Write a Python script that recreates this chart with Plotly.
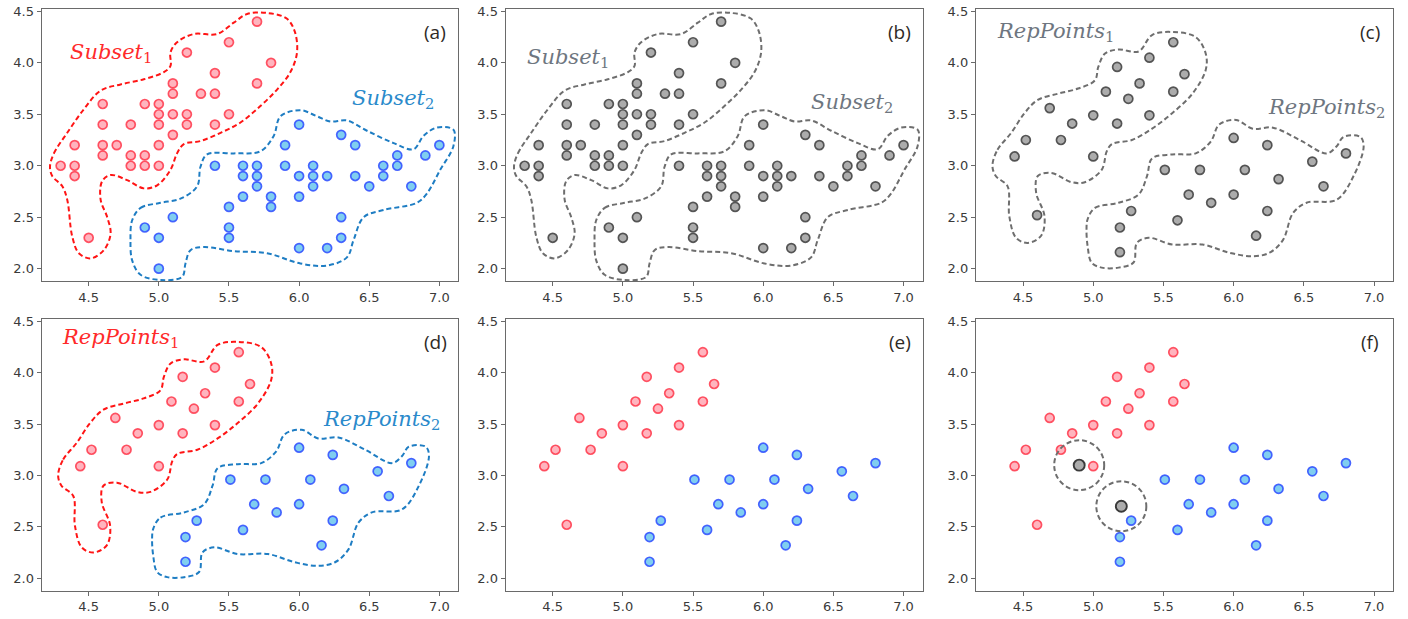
import plotly.graph_objects as go

# ---------------- data ----------------
# Subset 1 (red) and Subset 2 (blue) – full samples, panels (a),(b)
s1_x = [4.3, 4.4, 4.4, 4.4, 4.5, 4.6, 4.6, 4.6, 4.6, 4.7, 4.8, 4.8, 4.8, 4.9, 4.9, 4.9,
        5.0, 5.0, 5.0, 5.0, 5.0, 5.1, 5.1, 5.1, 5.1, 5.2, 5.2, 5.2, 5.3, 5.4, 5.4, 5.4,
        5.5, 5.5, 5.7, 5.7, 5.8]
s1_y = [3.0, 3.2, 3.0, 2.9, 2.3, 3.6, 3.4, 3.2, 3.1, 3.2, 3.4, 3.1, 3.0, 3.6, 3.1, 3.0,
        3.6, 3.5, 3.4, 3.2, 3.0, 3.8, 3.7, 3.5, 3.3, 4.1, 3.5, 3.4, 3.7, 3.9, 3.7, 3.4,
        4.2, 3.5, 4.4, 3.8, 4.0]
s2_x = [4.9, 5.0, 5.0, 5.1, 5.4, 5.5, 5.5, 5.5, 5.6, 5.6, 5.6, 5.7, 5.7, 5.7, 5.8, 5.8,
        5.9, 5.9, 6.0, 6.0, 6.0, 6.0, 6.1, 6.1, 6.1, 6.2, 6.2, 6.3, 6.3, 6.3, 6.4, 6.4,
        6.5, 6.6, 6.6, 6.7, 6.7, 6.8, 6.9, 7.0]
s2_y = [2.4, 2.3, 2.0, 2.5, 3.0, 2.6, 2.4, 2.3, 3.0, 2.9, 2.7, 3.0, 2.9, 2.8, 2.7, 2.6,
        3.2, 3.0, 3.4, 2.9, 2.7, 2.2, 3.0, 2.9, 2.8, 2.9, 2.2, 3.3, 2.5, 2.3, 3.2, 2.9,
        2.8, 3.0, 2.9, 3.1, 3.0, 2.8, 3.1, 3.2]

# Representative points
r1_x = [5.57, 5.40, 5.17, 5.65, 5.33, 5.09, 5.57, 5.25, 4.69, 5.00, 5.40, 4.85, 5.17,
        4.52, 4.77, 4.44, 5.00, 4.60]
r1_y = [4.20, 4.05, 3.96, 3.89, 3.80, 3.72, 3.72, 3.65, 3.56, 3.49, 3.49, 3.41, 3.41,
        3.25, 3.25, 3.09, 3.09, 2.52]
r2_x = [6.00, 6.24, 6.80, 6.56, 5.51, 5.76, 6.08, 6.32, 6.64, 5.68, 6.00, 5.84, 5.27,
        6.24, 5.60, 5.19, 6.16, 5.19]
r2_y = [3.27, 3.20, 3.12, 3.04, 2.96, 2.96, 2.96, 2.87, 2.80, 2.72, 2.72, 2.64, 2.56,
        2.56, 2.47, 2.40, 2.32, 2.16]

# Query points in panel (f)
q_x = [4.90, 5.20]
q_y = [3.10, 2.70]

# Contour outlines (data coordinates)
c_s1_x = [4.224, 4.252, 4.347, 4.466, 4.585, 4.727, 4.893, 5.036, 5.083, 5.083, 5.13, 5.25,
          5.415, 5.534, 5.63, 5.77, 5.912, 5.97, 5.985, 5.938, 5.843, 5.724, 5.582, 5.44,
          5.297, 5.178, 5.13, 5.083, 4.988, 4.893, 4.774, 4.656, 4.596, 4.585, 4.632,
          4.656, 4.608, 4.513, 4.43, 4.383, 4.347, 4.312, 4.24]
c_s1_y = [2.99, 3.12, 3.32, 3.55, 3.73, 3.79, 3.84, 3.91, 3.97, 4.10, 4.20, 4.28,
          4.28, 4.39, 4.475, 4.485, 4.43, 4.30, 4.10, 3.91, 3.74, 3.58, 3.42, 3.32,
          3.24, 3.21, 3.12, 2.96, 2.81, 2.78, 2.86, 2.91, 2.85, 2.67, 2.50,
          2.34, 2.18, 2.10, 2.15, 2.31, 2.67, 2.80, 2.90]
c_s2_x = [4.81, 4.87, 5.012, 5.154, 5.273, 5.297, 5.344, 5.534, 5.724, 5.819, 5.867, 6.009,
          6.128, 6.223, 6.341, 6.484, 6.674, 6.816, 6.887, 6.982, 7.10, 7.10, 7.006, 6.911,
          6.84, 6.603, 6.46, 6.389, 6.341, 6.199, 6.009, 5.772, 5.534, 5.32, 5.226, 5.19,
          5.166, 5.012, 4.87, 4.81, 4.798]
c_s2_y = [2.47, 2.59, 2.64, 2.68, 2.80, 2.99, 3.11, 3.12, 3.14, 3.29, 3.48, 3.54,
          3.48, 3.43, 3.44, 3.34, 3.22, 3.16, 3.29, 3.37, 3.35, 3.19, 2.96, 2.73,
          2.64, 2.57, 2.50, 2.28, 2.11, 2.03, 2.05, 2.15, 2.17, 2.21, 2.18, 2.05,
          1.92, 1.89, 1.94, 2.08, 2.28]
c_r1_x = [4.282, 4.318, 4.414, 4.51, 4.605, 4.749, 4.892, 5.012, 5.036, 5.084, 5.18, 5.323,
          5.419, 5.562, 5.73, 5.801, 5.801, 5.706, 5.562, 5.419, 5.275, 5.132, 5.096, 5.06,
          4.94, 4.845, 4.701, 4.605, 4.593, 4.653, 4.629, 4.533, 4.45, 4.402, 4.39, 4.306]
c_r1_y = [3.00, 3.155, 3.316, 3.51, 3.64, 3.70, 3.75, 3.83, 3.96, 4.09, 4.13, 4.11,
          4.27, 4.30, 4.25, 4.09, 3.93, 3.70, 3.51, 3.36, 3.25, 3.21, 3.14, 2.96,
          2.84, 2.84, 2.93, 2.90, 2.74, 2.51, 2.32, 2.25, 2.30, 2.51, 2.80, 2.90]
c_r2_x = [4.96, 5.012, 5.18, 5.323, 5.383, 5.419, 5.562, 5.73, 5.837, 5.897, 6.017, 6.136,
          6.28, 6.471, 6.663, 6.734, 6.782, 6.902, 6.926, 6.854, 6.734, 6.519, 6.423, 6.352,
          6.256, 6.136, 5.969, 5.778, 5.562, 5.395, 5.311, 5.287, 5.18, 5.06, 4.988, 4.96,
          4.952]
c_r2_y = [2.48, 2.59, 2.64, 2.72, 2.90, 3.07, 3.11, 3.12, 3.235, 3.40, 3.445, 3.36,
          3.37, 3.25, 3.12, 3.19, 3.28, 3.28, 3.19, 2.90, 2.67, 2.64, 2.54, 2.28,
          2.155, 2.12, 2.155, 2.235, 2.235, 2.30, 2.25, 2.06, 2.01, 2.01, 2.06, 2.22,
          2.38]

panel_labels = ["(a)", "(b)", "(c)", "(d)", "(e)", "(f)"]
x_ticks = [4.5, 5.0, 5.5, 6.0, 6.5, 7.0]
y_ticks = [2.0, 2.5, 3.0, 3.5, 4.0, 4.5]
x_range = [4.165, 7.135]
y_range = [1.88, 4.52]

# ---------------- styles ----------------
W, H = 1408, 619
RED_M = dict(size=9, color="rgba(255,176,186,0.95)", line=dict(color="rgba(255,45,65,0.8)", width=1.7))
BLUE_M = dict(size=9, color="rgba(128,206,240,1)", line=dict(color="rgba(45,75,255,0.85)", width=1.7))
GRAY_M = dict(size=9, color="rgba(172,172,172,1)", line=dict(color="rgba(70,70,70,0.9)", width=1.7))
GRAY_Q = dict(size=11, color="rgba(172,172,172,1)", line=dict(color="rgba(50,50,50,0.95)", width=1.9))
RED_L = "rgba(255,20,20,1)"
BLUE_L = "rgba(30,125,195,1)"
GRAY_L = "rgba(110,110,110,1)"
DASH = "5px,3px"

# pixel positions of the panels
x_doms = [(41.7, 458.3), (505.7, 922.5), (976.0, 1393.0)]
y_doms = [(9.3, 281.0), (319.3, 590.5)]

fig = go.Figure()
for r in range(2):
    for c in range(3):
        i = r * 3 + c + 1
        sfx = "" if i == 1 else str(i)
        xd = [x_doms[c][0] / W, x_doms[c][1] / W]
        yd = [1 - y_doms[r][1] / H, 1 - y_doms[r][0] / H]
        fig.layout["xaxis" + sfx] = dict(
            domain=xd, range=x_range, tickvals=x_ticks, ticktext=[f"{v:.1f}" for v in x_ticks],
            showgrid=False, zeroline=False, showline=True, mirror=True, linecolor="#6a6a6a",
            linewidth=1.3, ticks="outside", ticklen=4, tickcolor="#6a6a6a", automargin=False,
            tickfont=dict(family="DejaVu Sans", size=13, color="#3a3a3a"),
            anchor="y" + sfx)
        fig.layout["yaxis" + sfx] = dict(
            domain=yd, range=y_range, tickvals=y_ticks, ticktext=[f"{v:.1f}" for v in y_ticks],
            showgrid=False, zeroline=False, showline=True, mirror=True, linecolor="#6a6a6a",
            linewidth=1.3, ticks="outside", ticklen=4, tickcolor="#6a6a6a", automargin=False,
            tickfont=dict(family="DejaVu Sans", size=13, color="#3a3a3a"),
            anchor="x" + sfx)
        fig.add_annotation(text=panel_labels[i - 1], xref=f"x{sfx} domain", yref=f"y{sfx} domain",
                           x=0.945, y=0.915, xanchor="center", yanchor="middle", showarrow=False,
                           font=dict(family="Open Sans", size=19, color="#2e2a26"))


def axes(i):
    s = "" if i == 1 else str(i)
    return dict(xaxis="x" + s, yaxis="y" + s)


def contour(i, xs, ys, color):
    fig.add_trace(go.Scatter(x=xs + xs[:1], y=ys + ys[:1], mode="lines",
                             line=dict(color=color, width=2, dash=DASH, shape="spline", smoothing=1.0),
                             hoverinfo="skip", **axes(i)))


def pts(i, xs, ys, marker):
    fig.add_trace(go.Scatter(x=xs, y=ys, mode="markers", marker=marker, **axes(i)))


def label(i, text, sub, x, y, color):
    s = "" if i == 1 else str(i)
    fig.add_annotation(text=f"<i>{text}</i><sub>{sub}</sub>", x=x, y=y, xref="x" + s, yref="y" + s,
                       showarrow=False, xanchor="center", yanchor="middle",
                       font=dict(family="DejaVu Serif", size=21, color=color))


# (a)
contour(1, c_s1_x, c_s1_y, RED_L)
contour(1, c_s2_x, c_s2_y, BLUE_L)
pts(1, s1_x, s1_y, RED_M)
pts(1, s2_x, s2_y, BLUE_M)
label(1, "Subset", "1", 4.66, 4.10, "#ff2a2a")
label(1, "Subset", "2", 6.67, 3.65, "#2a8acb")
# (b)
contour(2, c_s1_x, c_s1_y, GRAY_L)
contour(2, c_s2_x, c_s2_y, GRAY_L)
pts(2, s1_x + s2_x, s1_y + s2_y, GRAY_M)
label(2, "Subset", "1", 4.61, 4.05, "#6e7680")
label(2, "Subset", "2", 6.63, 3.61, "#6e7680")
# (c)
contour(3, c_r1_x, c_r1_y, GRAY_L)
contour(3, c_r2_x, c_r2_y, GRAY_L)
pts(3, r1_x + r2_x, r1_y + r2_y, GRAY_M)
label(3, "RepPoints", "1", 4.73, 4.30, "#6e7680")
label(3, "RepPoints", "2", 6.66, 3.56, "#6e7680")
# (d)
contour(4, c_r1_x, c_r1_y, RED_L)
contour(4, c_r2_x, c_r2_y, BLUE_L)
pts(4, r1_x, r1_y, RED_M)
pts(4, r2_x, r2_y, BLUE_M)
label(4, "RepPoints", "1", 4.73, 4.34, "#ff2a2a")
label(4, "RepPoints", "2", 6.59, 3.54, "#2a8acb")
# (e)
pts(5, r1_x, r1_y, RED_M)
pts(5, r2_x, r2_y, BLUE_M)
# (f)
pts(6, r1_x, r1_y, RED_M)
pts(6, r2_x, r2_y, BLUE_M)
pts(6, q_x, q_y, GRAY_Q)
# dashed neighbourhood circles (radius 25 px)
px_per_x = (x_doms[2][1] - x_doms[2][0]) / (x_range[1] - x_range[0])
px_per_y = (y_doms[1][1] - y_doms[1][0]) / (y_range[1] - y_range[0])
rad_px = 25
for qx, qy in zip(q_x, q_y):
    fig.add_shape(type="circle", xref="x6", yref="y6",
                  x0=qx - rad_px / px_per_x, x1=qx + rad_px / px_per_x,
                  y0=qy - rad_px / px_per_y, y1=qy + rad_px / px_per_y,
                  line=dict(color=GRAY_L, width=2, dash=DASH))

fig.update_layout(width=W, height=H, margin=dict(l=0, r=0, t=0, b=0),
                  paper_bgcolor="white", plot_bgcolor="white", showlegend=False)
fig.write_html("out.html", config={"displayModeBar": False},
               post_script="document.body.style.margin='0';document.body.style.overflow='hidden';")
